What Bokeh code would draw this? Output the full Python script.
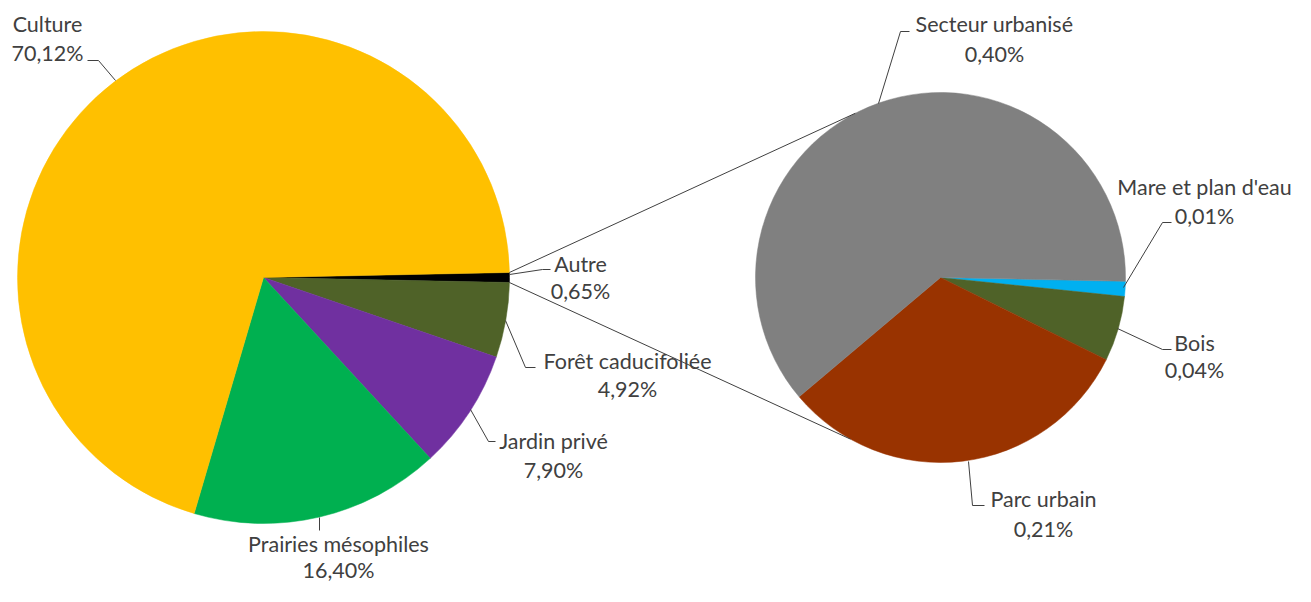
import math
from bokeh.plotting import figure
from bokeh.models import Range1d
from bokeh.embed import file_html
from bokeh.resources import INLINE
from bokeh.core.properties import value

# ---------------- data ----------------
main_names = ["Autre", "Forêt caducifoliée", "Jardin privé", "Prairies mésophiles", "Culture"]
main_values = [0.65, 4.92, 7.90, 16.40, 70.12]
main_pct = ["0,65%", "4,92%", "7,90%", "16,40%", "70,12%"]
main_colors = ["#000000", "#4F6228", "#7030A0", "#00B050", "#FFC000"]

sub_names = ["Mare et plan d'eau", "Bois", "Parc urbain", "Secteur urbanisé"]
sub_values = [0.0085, 0.037, 0.205, 0.40]
sub_pct = ["0,01%", "0,04%", "0,21%", "0,40%"]
sub_colors = ["#00B0F0", "#4F6228", "#993300", "#808080"]

# ---------------- layout (reference pixel coords) ----------------
W, H = 1295, 586
TOP = 602
def fy(Y):
    return TOP - Y

MAIN_C = (263, 277); MAIN_R = 246
SUB_C = (940, 277); SUB_R = 185
SUB_START = -1.2            # degrees, first slice top edge
CONN_ANG = (117.4, -119.1)  # where connectors meet the secondary pie

FONT = value("Lato")
FS = "21.5px"
TXT = "#404040"
LINE = "#404040"

# label anchors: (center x, line-1 center y, line-2 center y)
main_lab_pos = {
    "Autre": (580, 263, 290),
    "Forêt caducifoliée": (627, 360, 388),
    "Jardin privé": (553, 440, 469),
    "Prairies mésophiles": (338, 543, 569),
    "Culture": (47, 23, 52),
}
sub_lab_pos = {
    "Mare et plan d'eau": (1204, 186, 215),
    "Bois": (1194, 342, 369),
    "Parc urbain": (1043, 498, 528),
    "Secteur urbanisé": (994, 23, 53),
}
leaders = {
    "Culture": [(115, 80), (98, 60), (87, 60)],
    "Autre": [(509, 274), (542, 269), (550, 269)],
    "Forêt caducifoliée": [(505, 320), (525, 367), (535, 367)],
    "Jardin privé": [(470, 409), (488, 441), (495, 441)],
    "Prairies mésophiles": [(319, 517), (319, 530)],
    "Secteur urbanisé": [(878, 103), (900, 31), (909, 31)],
    "Mare et plan d'eau": [(1123, 287), (1162, 222), (1171, 222)],
    "Bois": [(1117, 328), (1162, 349), (1171, 349)],
    "Parc urbain": [(968, 461), (972, 505), (984, 505)],
}

p = figure(width=W, height=H, x_range=Range1d(0, W), y_range=Range1d(TOP - H, TOP),
           output_backend="svg", toolbar_location=None, min_border=0)
p.axis.visible = False
p.grid.visible = False
p.outline_line_color = None
p.background_fill_color = "white"
p.border_fill_color = "white"


def draw_pie(center, r, values, colors, start):
    total = sum(values)
    cur = start
    for v, c in zip(values, colors):
        span = v / total * 360.0
        s, e = cur - span, cur
        p.wedge(x=center[0], y=fy(center[1]), radius=r,
                start_angle=math.radians(s), end_angle=math.radians(e),
                direction="anticlock", fill_color=c, line_color=c, line_width=0.5)
        cur = s


main_total = sum(main_values)
autre_span = main_values[0] / main_total * 360.0
draw_pie(MAIN_C, MAIN_R, main_values, main_colors, autre_span / 2)
draw_pie(SUB_C, SUB_R, sub_values, sub_colors, SUB_START)

# connectors from "Autre" slice to secondary pie
for a_main, a_sub in ((autre_span / 2, CONN_ANG[0]), (-autre_span / 2, CONN_ANG[1])):
    x0 = MAIN_C[0] + MAIN_R * math.cos(math.radians(a_main))
    y0 = fy(MAIN_C[1]) + MAIN_R * math.sin(math.radians(a_main))
    x1 = SUB_C[0] + SUB_R * math.cos(math.radians(a_sub))
    y1 = fy(SUB_C[1]) + SUB_R * math.sin(math.radians(a_sub))
    p.line([x0, x1], [y0, y1], line_color=LINE, line_width=1)

# leader lines
p.multi_line(xs=[[pt[0] for pt in pts] for pts in leaders.values()],
             ys=[[fy(pt[1]) for pt in pts] for pts in leaders.values()],
             line_color=LINE, line_width=1)

# labels
names = main_names + sub_names
pcts = main_pct + sub_pct
pos = {**main_lab_pos, **sub_lab_pos}
xs, ys, ts = [], [], []
for n, t in zip(names, pcts):
    cx, c1, c2 = pos[n]
    xs += [cx, cx]
    ys += [fy(c1), fy(c2)]
    ts += [n, t]
p.text(x=xs, y=ys, text=ts, text_font=FONT, text_font_size=FS, text_color=TXT,
       text_align="center", text_baseline="middle")

open("out.html", "w").write(file_html(p, INLINE))
